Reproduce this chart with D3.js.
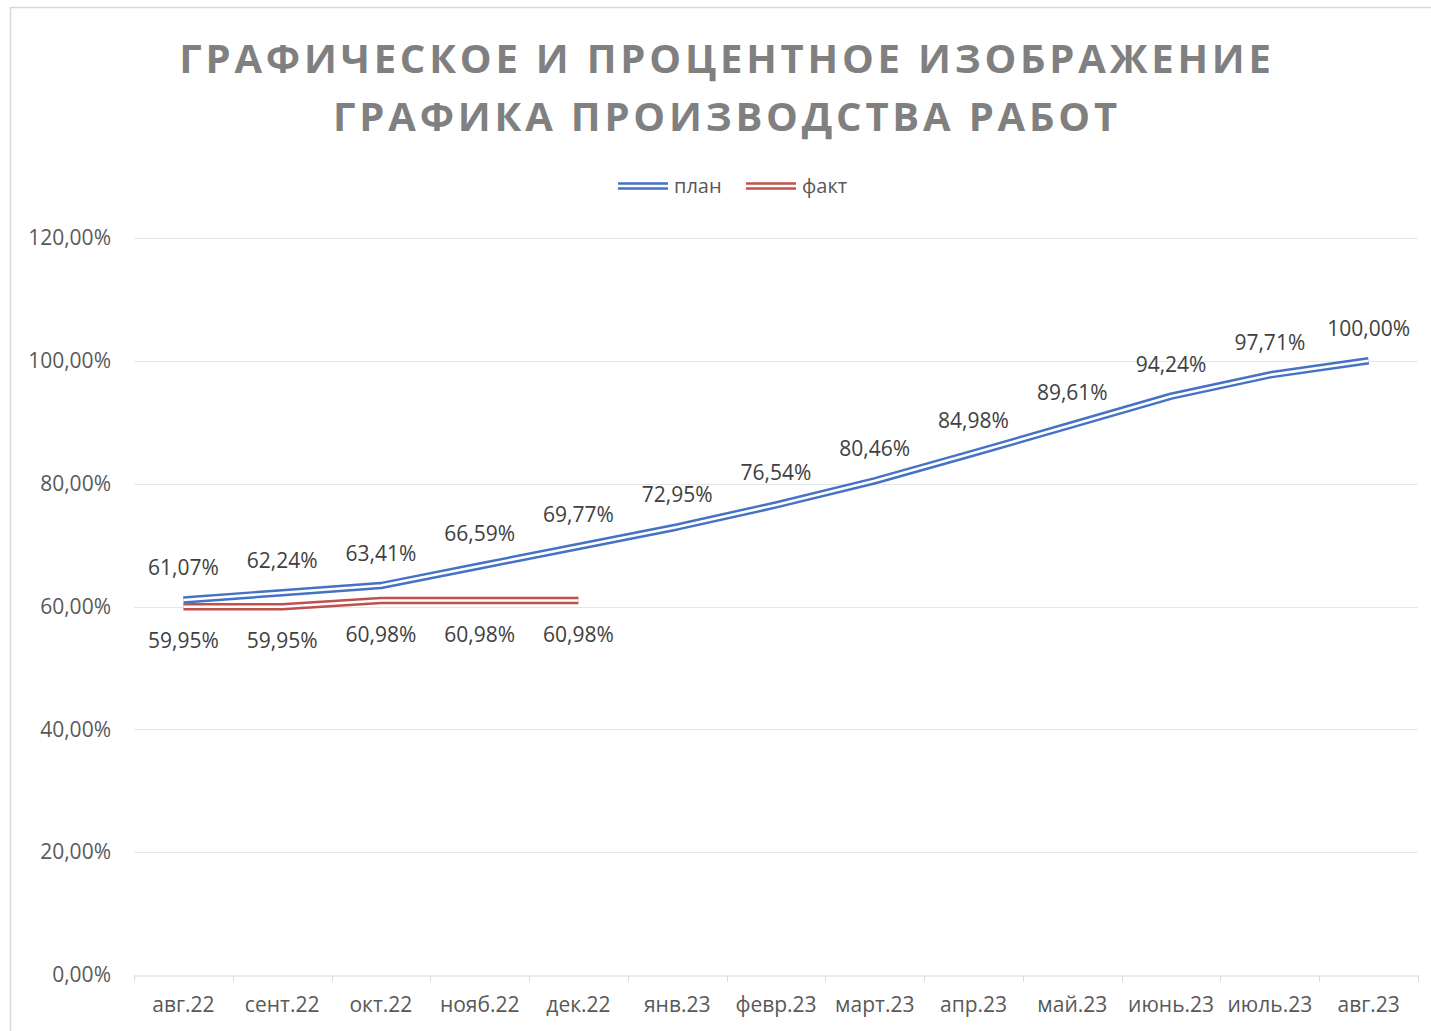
<!DOCTYPE html>
<html>
<head>
<meta charset="utf-8">
<script src="https://cdn.jsdelivr.net/npm/d3@7"></script>
<style>
body{margin:0;background:#fff;}
svg{display:block;font-family:'Open Sans',sans-serif;}
</style>
</head>
<body>
<script>
var months=['авг.22','сент.22','окт.22','нояб.22','дек.22','янв.23','февр.23','март.23','апр.23','май.23','июнь.23','июль.23','авг.23'];
var planValues=[61.07,62.24,63.41,66.59,69.77,72.95,76.54,80.46,84.98,89.61,94.24,97.71,100.00];
var factValues=[59.95,59.95,60.98,60.98,60.98];
var yTicks=[0,20,40,60,80,100,120];
var titleLines=['ГРАФИЧЕСКОЕ И ПРОЦЕНТНОЕ ИЗОБРАЖЕНИЕ','ГРАФИКА ПРОИЗВОДСТВА РАБОТ'];

var width=1431,height=1031;
var blue='#4472C4',red='#C0504D';
var fmt=function(v){return v.toFixed(2).replace('.',',')+'%';};

var svg=d3.select('body').append('svg')
.attr('width',width)
.attr('height',height);

// chart border
svg.append('rect')
.attr('x',10.5).attr('y',7.5)
.attr('width',width+20).attr('height',height+20)
.style('fill','#fff')
.style('stroke','#D9D9D9')
.style('stroke-width',1.5);

var xScale=d3.scaleBand()
.domain(months)
.range([134,1418]);

var yScale=d3.scaleLinear()
.domain([0,120])
.range([975,238]);

// grid
svg.append('g')
.selectAll('line')
.data(yTicks.filter(d=>d>0))
.enter()
.append('line')
.attr('x1',134).attr('x2',1418)
.attr('y1',d=>Math.round(yScale(d))+0.5)
.attr('y2',d=>Math.round(yScale(d))+0.5)
.style('stroke','#E6E6E6')
.style('stroke-width',1);

var yAxis=d3.axisLeft(yScale)
.tickValues(yTicks)
.tickFormat(fmt)
.tickSize(0)
.tickPadding(23);

var yG=svg.append('g')
.attr('transform','translate(134,0)')
.call(yAxis);
yG.select('.domain').remove();
yG.selectAll('text')
.style('font-size','21px')
.style('fill','#595959')
.style('font-family','Open Sans');

var xAxis=d3.axisBottom(xScale)
.tickSize(0)
.tickPadding(22);

var xG=svg.append('g')
.attr('transform','translate(0,'+(Math.round(yScale(0))+0.5)+')')
.call(xAxis);
xG.select('.domain').style('stroke','#D9D9D9');
xG.selectAll('text')
.style('font-size','21px')
.style('fill','#595959')
.style('font-family','Open Sans');

// band ticks
xG.append('g')
.selectAll('line')
.data(months.concat(['end']))
.enter()
.append('line')
.attr('x1',(d,i)=>Math.round(134+i*xScale.step())+0.5)
.attr('x2',(d,i)=>Math.round(134+i*xScale.step())+0.5)
.attr('y1',0).attr('y2',6)
.style('stroke','#D9D9D9');

var line=d3.line()
.x((d,i)=>xScale(months[i])+xScale.bandwidth()/2)
.y(d=>yScale(d));

function doubleLine(data,color){
    svg.append('path')
    .datum(data)
    .attr('d',line)
    .style('fill','none')
    .style('stroke',color)
    .style('stroke-width',7.5)
    .style('stroke-linejoin','round');
    svg.append('path')
    .datum(data)
    .attr('d',line)
    .style('fill','none')
    .style('stroke','#fff')
    .style('stroke-width',2.6)
    .style('stroke-linejoin','round');
}
doubleLine(planValues,blue);
doubleLine(factValues,red);

// data labels
svg.append('g')
.selectAll('text')
.data(planValues)
.enter()
.append('text')
.attr('x',(d,i)=>xScale(months[i])+xScale.bandwidth()/2)
.attr('y',d=>yScale(d)-32)
.attr('dy','0.35em')
.attr('text-anchor','middle')
.style('font-size','21px')
.style('fill','#404040')
.text(fmt);

svg.append('g')
.selectAll('text')
.data(factValues)
.enter()
.append('text')
.attr('x',(d,i)=>xScale(months[i])+xScale.bandwidth()/2)
.attr('y',d=>yScale(d)+34)
.attr('dy','0.35em')
.attr('text-anchor','middle')
.style('font-size','21px')
.style('fill','#404040')
.text(fmt);

// title
svg.append('g')
.selectAll('text')
.data(titleLines)
.enter()
.append('text')
.attr('x',727)
.attr('y',(d,i)=>59+i*58)
.attr('dy','0.35em')
.attr('text-anchor','middle')
.style('font-size','40px')
.style('font-weight','bold')
.style('letter-spacing','3.8px')
.style('fill','#808080')
.text(d=>d);

// legend
var legendData=[{name:'план',color:blue,x:618},{name:'факт',color:red,x:746}];
var legend=svg.append('g').attr('id','legend');
legendData.forEach(function(d){
    legend.append('line')
    .attr('x1',d.x).attr('x2',d.x+50)
    .attr('y1',186).attr('y2',186)
    .style('stroke',d.color)
    .style('stroke-width',7.5);
    legend.append('line')
    .attr('x1',d.x).attr('x2',d.x+50)
    .attr('y1',186).attr('y2',186)
    .style('stroke','#fff')
    .style('stroke-width',2.6);
    legend.append('text')
    .attr('x',d.x+56)
    .attr('y',186)
    .attr('dy','0.35em')
    .style('font-size','20px')
    .style('fill','#595959')
    .text(d.name);
});
</script>
</body>
</html>
